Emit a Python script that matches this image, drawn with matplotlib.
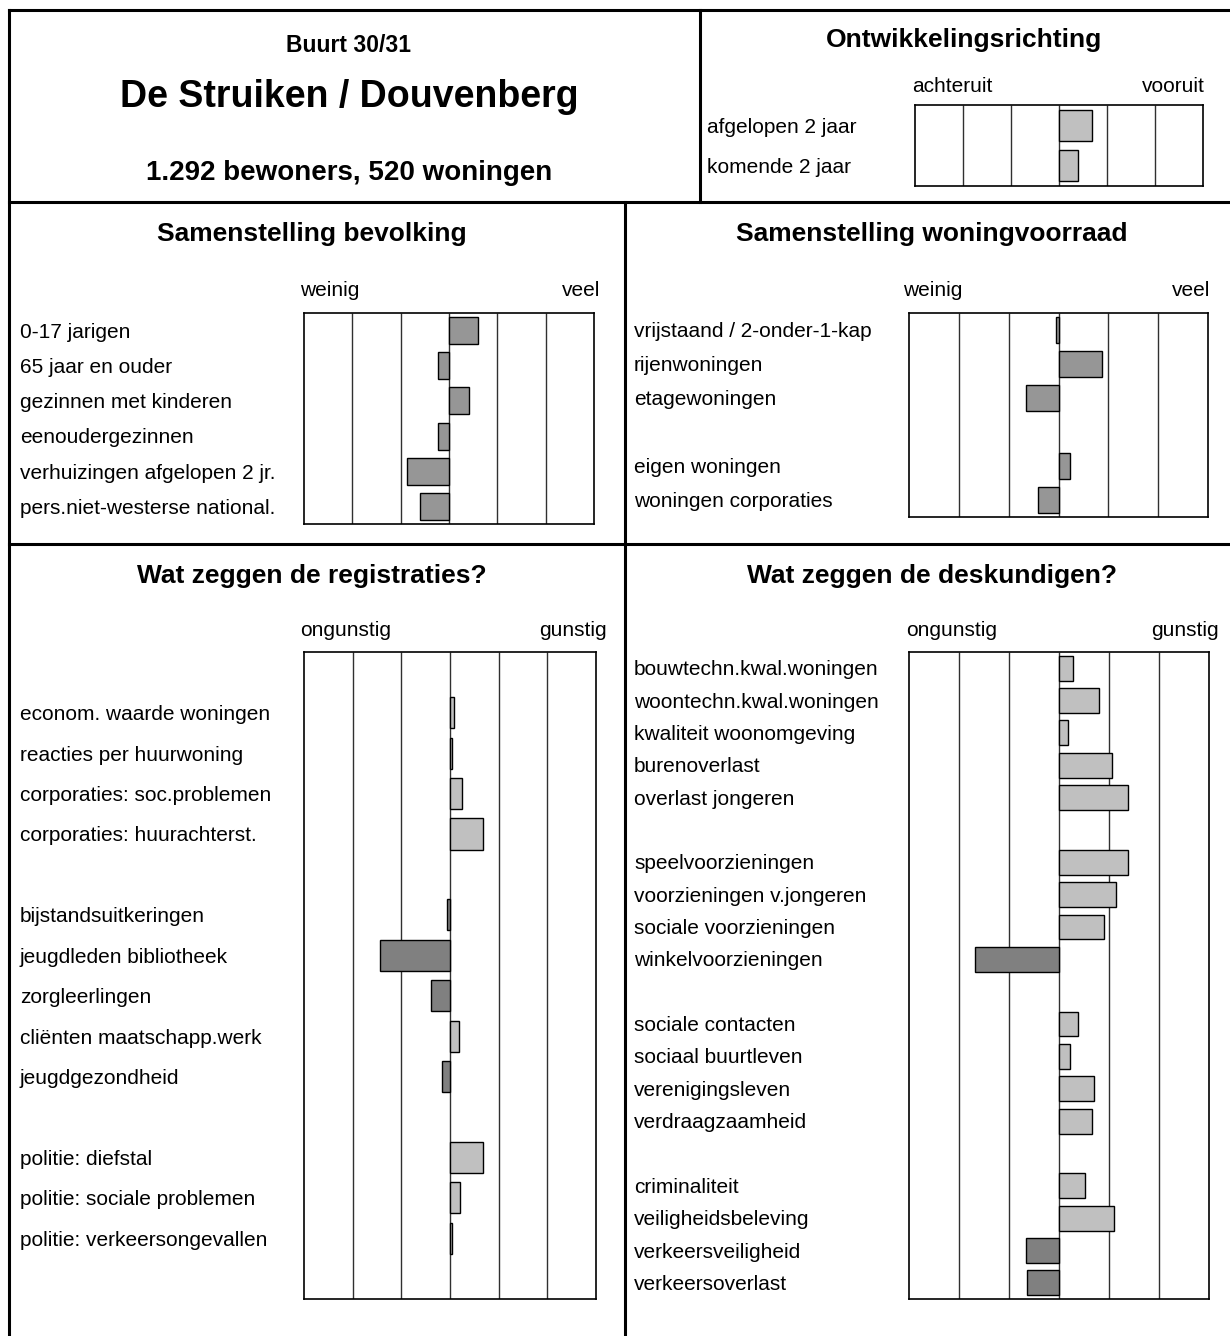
import matplotlib.pyplot as plt
import numpy as np
from matplotlib.lines import Line2D
from matplotlib import transforms

plt.rcParams['font.family'] = ['Liberation Sans', 'DejaVu Sans']

# ---- data ----
ontw_labels = ['afgelopen 2 jaar', 'komende 2 jaar']
ontw_vals = [0.69, 0.4]

bev_labels = ['0-17 jarigen', '65 jaar en ouder', 'gezinnen met kinderen', 'eenoudergezinnen',
              'verhuizingen afgelopen 2 jr.', 'pers.niet-westerse national.']
bev_vals = [0.6, -0.23, 0.42, -0.23, -0.87, -0.6]

won_labels = ['vrijstaand / 2-onder-1-kap', 'rijenwoningen', 'etagewoningen', '',
              'eigen woningen', 'woningen corporaties']
won_vals = [-0.05, 0.88, -0.66, np.nan, 0.24, -0.42]

reg_labels = ['', 'econom. waarde woningen', 'reacties per huurwoning', 'corporaties: soc.problemen',
              'corporaties: huurachterst.', '', 'bijstandsuitkeringen', 'jeugdleden bibliotheek',
              'zorgleerlingen', 'cliënten maatschapp.werk', 'jeugdgezondheid', '',
              'politie: diefstal', 'politie: sociale problemen', 'politie: verkeersongevallen', '']
reg_vals = [np.nan, 0.08, 0.05, 0.25, 0.68, np.nan, -0.06, -1.44, -0.39, 0.19, -0.17, np.nan,
            0.67, 0.2, 0.05, np.nan]

desk_labels = ['bouwtechn.kwal.woningen', 'woontechn.kwal.woningen', 'kwaliteit woonomgeving',
               'burenoverlast', 'overlast jongeren', '', 'speelvoorzieningen', 'voorzieningen v.jongeren',
               'sociale voorzieningen', 'winkelvoorzieningen', '', 'sociale contacten',
               'sociaal buurtleven', 'verenigingsleven', 'verdraagzaamheid', '', 'criminaliteit',
               'veiligheidsbeleving', 'verkeersveiligheid', 'verkeersoverlast']
desk_vals = [0.28, 0.8, 0.18, 1.06, 1.38, np.nan, 1.37, 1.14, 0.89, -1.69, np.nan, 0.38, 0.22,
             0.69, 0.65, np.nan, 0.52, 1.1, -0.67, -0.65]

W, H = 1230, 1336
fig = plt.figure(figsize=(W / 100, H / 100), dpi=100)

FS = 15      # labels
FT = 19      # titels


def fx(x): return x / W
def fy(y): return 1 - y / H


def txt(x, y, s, **kw):
    fig.text(fx(x), fy(y), s, **kw)


def paneel(x0, y0, x1, y1, labels, vals, lab_x, kleur):
    ax = fig.add_axes([fx(x0), fy(y1), fx(x1 - x0), (y1 - y0) / H])
    n = len(vals)
    ax.set_xlim(-3, 3)
    ax.set_ylim(n - 0.5, -0.5)
    ax.vlines([-2, -1, 0, 1, 2], -0.5, n - 0.5, color='#303030', lw=1, zorder=1)
    y = np.arange(n)
    v = np.array(vals, dtype=float)
    ok = ~np.isnan(v)
    cols = [kleur(x) for x in v[ok]]
    ax.barh(y[ok], v[ok], height=0.77, color=cols, edgecolor='black', linewidth=1, zorder=2)
    ax.set_xticks([]); ax.set_yticks([])
    for s in ax.spines.values():
        s.set_linewidth(1.2); s.set_color('black')
    tr = transforms.blended_transform_factory(fig.transFigure, ax.transData)
    for i, lab in enumerate(labels):
        if lab:
            ax.text(fx(lab_x), i + 0.05, lab, transform=tr, ha='left', va='center', fontsize=FS,
                    clip_on=False)
    return ax


licht = lambda x: '#c0c0c0'
midden = lambda x: '#969696'
tweekl = lambda x: '#c0c0c0' if x >= 0 else '#808080'

# ---- kader ----
lw = 2.2
for (xa, ya, xb, yb) in [(9, 10, 1230, 10), (9, 10, 9, 1336), (9, 202, 1230, 202), (9, 544, 1230, 544),
                         (700, 10, 700, 202), (625, 202, 625, 1336)]:
    fig.add_artist(Line2D([fx(xa), fx(xb)], [fy(ya), fy(yb)], color='black', lw=lw,
                          transform=fig.transFigure))

# ---- kop ----
txt(349, 45, 'Buurt 30/31', ha='center', va='center', fontsize=16.5, fontweight='bold')
txt(349, 97, 'De Struiken / Douvenberg', ha='center', va='center', fontsize=27, fontweight='bold')
txt(349, 173, '1.292 bewoners, 520 woningen', ha='center', va='center', fontsize=20, fontweight='bold')

txt(964, 40, 'Ontwikkelingsrichting', ha='center', va='center', fontsize=FT, fontweight='bold')
txt(912, 86, 'achteruit', ha='left', va='center', fontsize=FS)
txt(1205, 86, 'vooruit', ha='right', va='center', fontsize=FS)
paneel(915, 105, 1203, 186, ontw_labels, ontw_vals, 707, licht)

# ---- samenstelling ----
txt(312, 234, 'Samenstelling bevolking', ha='center', va='center', fontsize=FT, fontweight='bold')
txt(300, 290, 'weinig', ha='left', va='center', fontsize=FS)
txt(600, 290, 'veel', ha='right', va='center', fontsize=FS)
paneel(304, 313, 594, 524, bev_labels, bev_vals, 20, midden)

txt(932, 234, 'Samenstelling woningvoorraad', ha='center', va='center', fontsize=FT, fontweight='bold')
txt(903, 290, 'weinig', ha='left', va='center', fontsize=FS)
txt(1210, 290, 'veel', ha='right', va='center', fontsize=FS)
paneel(909, 313, 1208, 517, won_labels, won_vals, 634, midden)

# ---- registraties / deskundigen ----
txt(312, 576, 'Wat zeggen de registraties?', ha='center', va='center', fontsize=FT, fontweight='bold')
txt(300, 630, 'ongunstig', ha='left', va='center', fontsize=FS)
txt(607, 630, 'gunstig', ha='right', va='center', fontsize=FS)
paneel(304, 652, 596, 1299, reg_labels, reg_vals, 20, tweekl)

txt(932, 576, 'Wat zeggen de deskundigen?', ha='center', va='center', fontsize=FT, fontweight='bold')
txt(906, 630, 'ongunstig', ha='left', va='center', fontsize=FS)
txt(1219, 630, 'gunstig', ha='right', va='center', fontsize=FS)
paneel(909, 652, 1209, 1299, desk_labels, desk_vals, 634, tweekl)

fig.savefig('out.png', dpi=100)
